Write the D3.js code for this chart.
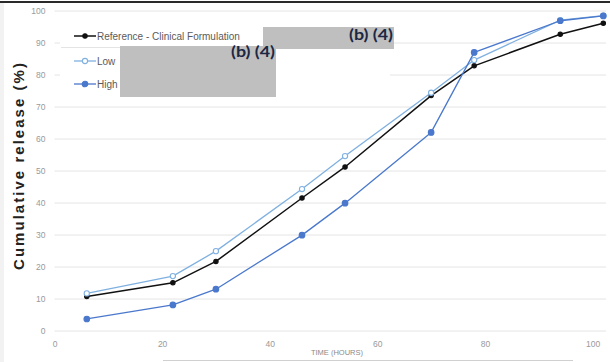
<!DOCTYPE html>
<html>
<head>
<meta charset="utf-8">
<script src="https://cdn.jsdelivr.net/npm/d3@7"></script>
<style>
  html, body { margin: 0; padding: 0; background: #fff; }
  svg { display: block; }
</style>
</head>
<body>
<svg id="chart" width="610" height="362"></svg>
<script>
// Sampling times (hours) and cumulative release (%) per formulation
const hours = [6, 22, 30, 46, 54, 70, 78, 94, 102];
const reference = [10.6, 14.9, 21.6, 41.4, 51.1, 73.4, 82.7, 92.6, 96.0];
const low = [11.6, 17.0, 24.8, 44.2, 54.5, 74.3, 84.5, 97.0, 98.4];
const high = [3.6, 8.0, 12.9, 29.8, 39.8, 61.9, 86.9, 96.8, 98.3];
const xTicks = [0, 20, 40, 60, 80, 100];
const yTicks = [0, 10, 20, 30, 40, 50, 60, 70, 80, 90, 100];
const seriesNames = ["Reference - Clinical Formulation", "Low", "High"];
const redaction = "(b) (4)";

const svg = d3.select("#chart");
const W = 610, H = 362;

const x = d3.scaleLinear().domain([0, 102.5]).range([54.5, 606]);
const y = d3.scaleLinear().domain([0, 100]).range([330.5, 10.5]);

const series = [
  { name: seriesNames[0], values: reference, color: "#111111", fill: "#111111", r: 2.2, width: 1.5 },
  { name: seriesNames[1], values: low, color: "#7fb0e0", fill: "#ffffff", r: 2.6, width: 1.3 },
  { name: seriesNames[2], values: high, color: "#4a78cc", fill: "#4a78cc", r: 2.8, width: 1.3 }
];

// frame: dark rule across the top, faint rule at the bottom
svg.append("rect").attr("x", 0).attr("y", 1).attr("width", W).attr("height", 2).attr("fill", "#2a2a2a");
svg.append("rect").attr("x", 0).attr("y", 3).attr("width", 4).attr("height", H - 3).attr("fill", "#f2f2f2");
svg.append("line").attr("x1", 163).attr("x2", 573).attr("y1", 360.5).attr("y2", 360.5)
  .attr("stroke", "#d0d0d0").attr("stroke-width", 1);

// horizontal gridlines and y tick labels
const yAxis = d3.axisLeft(y).tickValues(yTicks).tickSize(-(x.range()[1] - x.range()[0])).tickPadding(9);
const gy = svg.append("g").attr("transform", `translate(${x.range()[0]},0)`).call(yAxis);
gy.select(".domain").remove();
gy.selectAll(".tick line").attr("stroke", "#e4e4e4").attr("stroke-width", 1);
gy.selectAll(".tick text").attr("fill", "#9a9a9a").attr("font-family", "Liberation Sans, Arial, sans-serif").attr("font-size", 8.5);

// x tick labels (no axis line)
const xAxis = d3.axisBottom(x).tickValues(xTicks).tickSize(0).tickPadding(10);
const gx = svg.append("g").attr("transform", `translate(0,${y(0)})`).call(xAxis);
gx.select(".domain").remove();
gx.selectAll(".tick text").attr("fill", "#9a9a9a").attr("font-family", "Liberation Sans, Arial, sans-serif").attr("font-size", 8.5);

// axis titles
svg.append("text")
  .attr("transform", "translate(23.5,166.5) rotate(-90)")
  .attr("text-anchor", "middle")
  .attr("font-family", "Liberation Sans, Arial, sans-serif")
  .attr("font-weight", "bold").attr("font-size", 15).attr("fill", "#222")
  .attr("textLength", 207).attr("lengthAdjust", "spacing")
  .text("Cumulative release (%)");
svg.append("text")
  .attr("x", 337).attr("y", 355)
  .attr("text-anchor", "middle")
  .attr("font-family", "Liberation Sans, Arial, sans-serif")
  .attr("font-size", 7.5).attr("fill", "#8a8a8a")
  .text("TIME (HOURS)");

// release curves
const line = d3.line().x((d, i) => x(hours[i])).y(d => y(d));
series.forEach(s => {
  svg.append("path").datum(s.values)
    .attr("d", line).attr("fill", "none")
    .attr("stroke", s.color).attr("stroke-width", s.width).attr("stroke-linejoin", "round");
  svg.append("g").selectAll("circle").data(s.values).join("circle")
    .attr("cx", (d, i) => x(hours[i])).attr("cy", d => y(d)).attr("r", s.r)
    .attr("fill", s.fill).attr("stroke", s.color).attr("stroke-width", 1.1);
});

// legend panel
svg.append("rect").attr("x", 60).attr("y", 20).attr("width", 330).attr("height", 79).attr("fill", "#fff");
svg.append("line").attr("x1", 61).attr("x2", 120).attr("y1", 47.5).attr("y2", 47.5).attr("stroke", "#e4e4e4");
const legendY = [36, 61, 84];
series.forEach((s, i) => {
  const g = svg.append("g").attr("transform", `translate(0,${legendY[i]})`);
  g.append("line").attr("x1", 74).attr("x2", 96).attr("stroke", s.color).attr("stroke-width", s.width);
  g.append("circle").attr("cx", 85).attr("r", s.r).attr("fill", s.fill).attr("stroke", s.color).attr("stroke-width", 1.1);
  g.append("text").attr("x", 97).attr("y", 3.5)
    .attr("font-family", "Liberation Sans, Arial, sans-serif").attr("font-size", 10).attr("fill", "#5a5a5a")
    .text(s.name);
});

// redaction blocks
const blocks = [
  { x0: 263, x1: 394, y0: 27, y1: 49, ty: 39.5 },
  { x0: 120, x1: 276, y0: 46, y1: 97, ty: 57 }
];
blocks.forEach(b => {
  svg.append("rect").attr("x", b.x0).attr("y", b.y0).attr("width", b.x1 - b.x0).attr("height", b.y1 - b.y0).attr("fill", "#bfbfbf");
});
blocks.forEach(b => {
  svg.append("text").attr("x", b.x1 - 1).attr("y", b.ty).attr("text-anchor", "end")
    .attr("font-family", "Lato, 'Open Sans', sans-serif").attr("font-weight", "bold")
    .attr("font-size", 15.5).attr("fill", "#1c2843")
    .attr("textLength", 44).attr("lengthAdjust", "spacingAndGlyphs")
    .text(redaction);
});
</script>
</body>
</html>
